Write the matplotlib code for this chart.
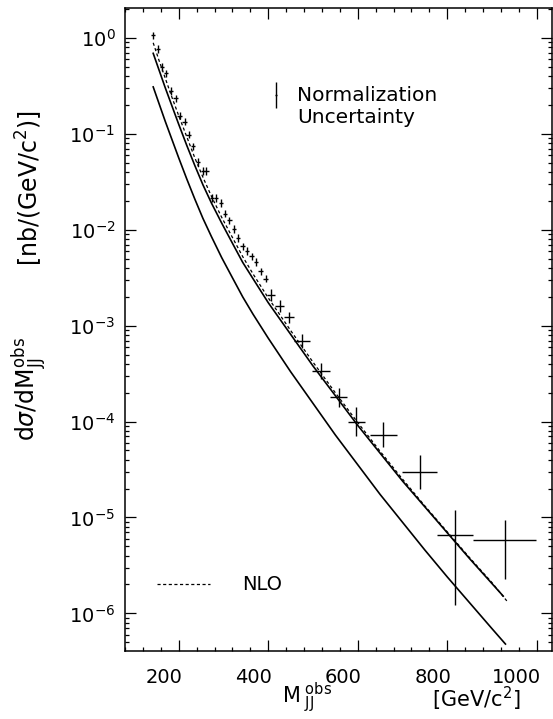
import numpy as np
import matplotlib
matplotlib.use("Agg")
import matplotlib.pyplot as plt
from matplotlib.ticker import FixedLocator, MultipleLocator, LogLocator, NullFormatter, FuncFormatter
from matplotlib.transforms import ScaledTranslation

plt.rcParams['font.family'] = ['DejaVu Sans']
plt.rcParams['mathtext.fontset'] = 'dejavusans'

# ---------------- data ----------------
mass = [143, 154, 163, 172, 183, 193, 202, 213, 222, 232, 243, 254, 262,
        275, 284,
        294, 303, 313, 323, 333, 343, 353, 363, 373, 383, 394,
        406, 426, 447, 476, 517, 557, 597, 657, 738, 818, 928]
xsec = [1.07, 0.77, 0.50, 0.43, 0.28, 0.235, 0.155, 0.134, 0.098, 0.074, 0.051, 0.041, 0.041,
        0.0215, 0.0215,
        0.019, 0.0147, 0.0126, 0.0102, 0.0082, 0.0067, 0.0060, 0.0053, 0.0046, 0.0037, 0.0031,
        0.0021, 0.0016, 0.00122, 7.0e-4, 3.4e-4, 1.8e-4, 1.0e-4, 7.3e-5, 3.0e-5, 6.6e-6, 5.8e-6]
mass_halfwidth = [5, 5, 5, 5, 5, 5, 5, 5, 5, 5, 5, 5, 5,
                  4.5, 4.5,
                  5, 5, 5, 5, 5, 5, 5, 5, 5, 5, 5,
                  9, 10, 11, 18, 20, 20, 19.5, 30, 40, 40, 71]
err_up_dex = [0.038] * 26 + [0.06, 0.06, 0.06, 0.073, 0.083, 0.10, 0.153, 0.13, 0.177, 0.26, 0.21]
err_dn_dex = [0.038] * 26 + [0.06, 0.06, 0.06, 0.073, 0.083, 0.10, 0.153, 0.13, 0.177, 0.73, 0.41]

upper_mass = [143, 155, 170, 185, 200, 218, 236, 254, 273, 296, 320, 343, 366, 400, 450, 500,
              550, 600, 650, 700, 750, 800, 850, 900, 925]
upper_log = [-0.16, -0.32, -0.52, -0.71, -0.90, -1.12, -1.33, -1.53, -1.72, -1.93, -2.14, -2.34,
             -2.51, -2.76, -3.09, -3.42, -3.73, -4.04, -4.33, -4.62, -4.89, -5.16, -5.43,
             -5.69, -5.82]

lower_mass = [143, 155, 170, 185, 200, 218, 236, 254, 273, 296, 320, 343, 366, 400, 450, 500,
              550, 600, 650, 700, 750, 800, 850, 900, 930]
lower_log = [-0.51, -0.67, -0.87, -1.06, -1.25, -1.47, -1.68, -1.88, -2.07, -2.29, -2.50, -2.70,
             -2.88, -3.13, -3.48, -3.81, -4.14, -4.45, -4.76, -5.05, -5.34, -5.62, -5.89,
             -6.16, -6.32]

nlo_mass = [143, 155, 170, 185, 200, 218, 236, 254, 273, 296, 320, 343, 366, 400, 450, 500,
            550, 600, 650, 700, 750, 800, 850, 900, 933]
nlo_log = [-0.05, -0.22, -0.42, -0.62, -0.81, -1.03, -1.25, -1.45, -1.65, -1.87, -2.08, -2.28,
           -2.46, -2.71, -3.05, -3.38, -3.70, -4.01, -4.31, -4.60, -4.88, -5.15, -5.42,
           -5.68, -5.87]

norm_mass = 417
norm_val = 0.253
norm_lo = 0.185
norm_hi = 0.345

x_major = [200, 400, 600, 800, 1000]
x_tick_labels = ["200", "400", "600", "800", "1000"]
y_major_exp = [0, -1, -2, -3, -4, -5, -6]

# ---------------- figure ----------------
fig = plt.figure(figsize=(5.53, 7.19), dpi=100)
ax = fig.add_axes([125 / 553, 68 / 719, 427 / 553, 643 / 719])

y = np.array(xsec)
yerr = [y - y / 10 ** np.array(err_dn_dex), y * 10 ** np.array(err_up_dex) - y]
ax.errorbar(mass, xsec, xerr=mass_halfwidth, yerr=yerr, fmt='none',
            ecolor='black', elinewidth=1.0, capsize=0)

ax.plot(upper_mass, 10 ** np.array(upper_log), color='black', lw=1.2)
ax.plot(lower_mass, 10 ** np.array(lower_log), color='black', lw=1.2)
ax.plot(nlo_mass, 10 ** np.array(nlo_log), color='black', lw=0.9, ls=(0, (2.5, 2.0)))

# normalization uncertainty marker
ax.errorbar([norm_mass], [norm_val], yerr=[[norm_val - norm_lo], [norm_hi - norm_val]],
            xerr=2.5, fmt='none', ecolor='black', elinewidth=1.0, capsize=0)
ax.text(0.403, 0.855, "Normalization", transform=ax.transAxes, fontsize=14.5,
        ha='left', va='baseline')
ax.text(0.403, 0.821, "Uncertainty", transform=ax.transAxes, fontsize=14.5,
        ha='left', va='baseline')

# NLO legend
ax.plot([0.075, 0.199], [0.104, 0.104], transform=ax.transAxes, color='black',
        lw=0.9, ls=(0, (2.5, 2.0)))
ax.text(0.274, 0.104, "NLO", transform=ax.transAxes, fontsize=14, ha='left', va='center')

ax.set_yscale('log')
ax.set_xlim(80, 1034)
ax.set_ylim(4.05e-7, 2.055)

ax.xaxis.set_major_locator(FixedLocator(x_major))
ax.xaxis.set_minor_locator(MultipleLocator(40))
ax.set_xticklabels(x_tick_labels)
ax.yaxis.set_major_locator(FixedLocator([10.0 ** e for e in y_major_exp]))
ax.yaxis.set_minor_locator(LogLocator(base=10, subs=np.arange(2, 10), numticks=50))
ax.yaxis.set_minor_formatter(NullFormatter())
ax.yaxis.set_major_formatter(FuncFormatter(lambda v, p: r"$10^{%d}$" % int(round(np.log10(v)))))

ax.tick_params(which='both', direction='in', top=True, right=True, width=0.9, color='black')
ax.tick_params(which='major', length=8)
ax.tick_params(which='minor', length=3.2)
ax.tick_params(axis='x', which='major', labelsize=14, pad=12)
ax.tick_params(axis='y', which='major', labelsize=14, pad=7)
for s in ax.spines.values():
    s.set_linewidth(1.1)

fig.canvas.draw()
for lbl in ax.get_xticklabels():
    lbl.set_ha('right')
    lbl.set_transform(lbl.get_transform() + ScaledTranslation(0.04, 0, fig.dpi_scale_trans))

# axis labels
fig.text(29 / 553, 1 - 188 / 719, "[nb/(GeV/c$^2$)]", rotation=90, fontsize=17,
         ha='center', va='center')
fig.text(29 / 553, 1 - 389 / 719, r"d$\sigma$/dM$^{\rm obs}_{\rm JJ}$", rotation=90, fontsize=17,
         ha='center', va='center')
fig.text(282 / 553, 1 - 703 / 719, r"M$^{\ \rm obs}_{\ \rm JJ}$", fontsize=15,
         ha='left', va='baseline')
fig.text(432 / 553, 1 - 707 / 719, "[GeV/c$^2$]", fontsize=15, ha='left', va='baseline')

fig.savefig("out.png", dpi=100, facecolor='white')
